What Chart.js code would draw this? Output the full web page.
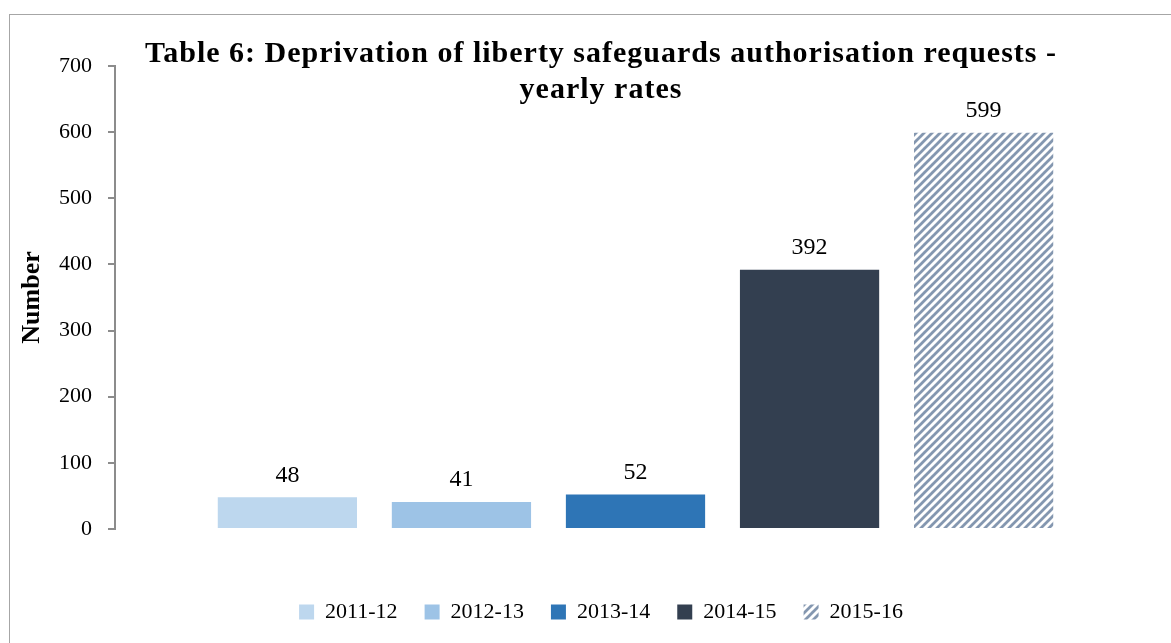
<!DOCTYPE html>
<html>
<head>
<meta charset="utf-8">
<script src="https://cdn.jsdelivr.net/npm/chart.js@4"></script>
<style>
    body { margin: 0; background: #fff; overflow: hidden; }
    #frame {
        position: absolute; left: 9px; top: 14px; width: 1300px; height: 800px;
        border-left: 1px solid #a6a6a6; border-top: 1px solid #a6a6a6;
    }
    #chart { position: absolute; left: 0; top: 0; }
</style>
</head>
<body>
<div id="frame"><canvas id="chart" width="1161" height="640"></canvas></div>
<script>
const seasons = ['2011-12', '2012-13', '2013-14', '2014-15', '2015-16'];
const requests = [48, 41, 52, 392, 599];
const yTicks = [0, 100, 200, 300, 400, 500, 600, 700];
const titleLines = ['Table 6: Deprivation of liberty safeguards authorisation requests -', 'yearly rates'];

const serif = "'Liberation Serif', 'DejaVu Serif', serif";

const makeHatch = () => {
    const c = document.createElement('canvas');
    c.width = 8;
    c.height = 8;
    const g = c.getContext('2d');
    g.strokeStyle = '#8497b0';
    g.lineWidth = 2.8;
    g.beginPath();
    g.moveTo(-2, 10); g.lineTo(10, -2);
    g.moveTo(-6, 6); g.lineTo(6, -6);
    g.moveTo(2, 14); g.lineTo(14, 2);
    g.stroke();
    return g.createPattern(c, 'repeat');
};

const fills = ['#bdd7ee', '#9dc3e6', '#2e75b6', '#333f50', makeHatch()];

const titlePlugin = {
    id: 'bigTitle',
    afterDraw: (chart) => {
        const ctx = chart.ctx;
        ctx.save();
        ctx.fillStyle = '#000';
        ctx.font = 'bold 30px ' + serif;
        ctx.letterSpacing = '1px';
        ctx.textAlign = 'center';
        ctx.textBaseline = 'middle';
        ctx.fillText(titleLines[0], 591, 39);
        ctx.fillText(titleLines[1], 591, 75);
        ctx.restore();
    },
};

const valuePlugin = {
    id: 'barValues',
    afterDatasetsDraw: (chart) => {
        const ctx = chart.ctx;
        ctx.save();
        ctx.fillStyle = '#000';
        ctx.font = '24px ' + serif;
        ctx.textAlign = 'center';
        ctx.textBaseline = 'bottom';
        chart.data.datasets.forEach((ds, i) => {
            const bar = chart.getDatasetMeta(i).data[0];
            ctx.fillText(String(ds.data[0]), bar.x, bar.y - 10);
        });
        ctx.restore();
    },
};

// legend sits a little right of the canvas centre in the original
const legendShift = {
    id: 'legendShift',
    afterLayout: (chart) => {
        chart.legend.left += 18;
        chart.legend.right += 18;
    },
};

const chart = new Chart(document.getElementById('chart'), {
    type: 'bar',
    data: {
        labels: [''],
        datasets: seasons.map((s, i) => ({
            label: s,
            data: [requests[i]],
            backgroundColor: fills[i],
            borderWidth: 0,
            categoryPercentage: 0.836,
            barPercentage: 0.8,
        })),
    },
    options: {
        responsive: false,
        animation: false,
        layout: { padding: { top: 51, right: 15, bottom: 22, left: 0 } },
        plugins: {
            title: { display: false },
            tooltip: { enabled: false },
            legend: {
                position: 'bottom',
                labels: {
                    font: { family: serif, size: 22 },
                    color: '#000',
                    boxWidth: 15,
                    boxHeight: 15,
                    padding: 27,
                },
            },
        },
        scales: {
            x: {
                ticks: { display: false },
                grid: { display: false },
                border: { display: false },
                afterFit: (scale) => { scale.height = 45; },
            },
            y: {
                min: yTicks[0],
                max: yTicks[yTicks.length - 1],
                afterBuildTicks: (scale) => { scale.ticks = yTicks.map((v) => ({ value: v })); },
                ticks: {
                    font: { family: serif, size: 22 },
                    color: '#000',
                    padding: 16,
                },
                grid: {
                    drawOnChartArea: false,
                    drawTicks: true,
                    tickLength: 7,
                    color: '#8c8c8c',
                    lineWidth: 2,
                },
                border: { color: '#8c8c8c', width: 2 },
                title: {
                    display: true,
                    text: 'Number',
                    font: { family: serif, size: 26, weight: 'bold' },
                    color: '#000',
                    padding: { top: 7, bottom: 0 },
                },
                afterFit: (scale) => { scale.width = 105; },
            },
        },
    },
    plugins: [titlePlugin, valuePlugin, legendShift],
});
</script>
</body>
</html>
